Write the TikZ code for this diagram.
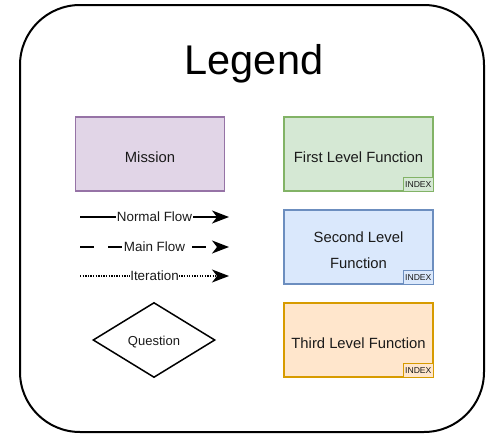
\documentclass[tikz,border=0pt]{standalone}
\usepackage{fontspec}
\setmainfont{Liberation Sans}
\usetikzlibrary{arrows.meta,shapes.geometric}
\definecolor{missionfill}{HTML}{E1D5E7}
\definecolor{missionline}{HTML}{9673A6}
\definecolor{greenfill}{HTML}{D5E8D4}
\definecolor{greenline}{HTML}{82B366}
\definecolor{bluefill}{HTML}{DAE8FC}
\definecolor{blueline}{HTML}{6C8EBF}
\definecolor{orangefill}{HTML}{FFE6CC}
\definecolor{orangeline}{HTML}{D79B00}
\definecolor{inktext}{HTML}{1A1A1A}
\tikzset{
  box/.style={draw, line width=1.6pt, minimum width=149pt, minimum height=74pt, inner sep=0pt},
  boxtext/.style={align=center, inner sep=0pt, text=inktext, font=\fontsize{14.8}{26}\selectfont},
  indexbox/.style={draw, line width=1pt, minimum width=30pt, minimum height=14pt,
    inner sep=0pt, text=inktext, font=\fontsize{8.6}{9}\selectfont},
  flow/.style={line width=1.5pt, -{Stealth[length=17pt,width=13pt,inset=5pt]}},
  flowlabel/.style={fill=white, inner sep=0.5pt, text=inktext, font=\fontsize{13.4}{15}\selectfont}
}
\begin{document}
\begin{tikzpicture}[x=1pt,y=-1pt]
\useasboundingbox (0,0) rectangle (499,437);
% frame
\draw[line width=2pt, rounded corners=60pt] (20,5) rectangle (484,432);
\node[font=\fontsize{41.5}{48}\selectfont] (title) at (254,64) {Legend};

% boxes
\node[box, fill=missionfill, draw=missionline] (mission) at (150,154) {};
\node[box, fill=greenfill, draw=greenline] (first) at (358.5,154) {};
\node[box, fill=bluefill, draw=blueline] (second) at (358.5,247) {};
\node[box, fill=orangefill, draw=orangeline] (third) at (358.5,340) {};

\node[boxtext] (missiontext) at ([yshift=-3pt]mission.center) {Mission};
\node[boxtext] (firsttext) at ([yshift=-3pt]first.center) {First Level Function};
\node[boxtext] (secondtext) at ([yshift=-3pt]second.center) {Second Level\\Function};
\node[boxtext] (thirdtext) at ([yshift=-3pt]third.center) {Third Level Function};

\node[indexbox, fill=greenfill, draw=greenline, anchor=south east] (idx1) at (first.south east) {INDEX};
\node[indexbox, fill=bluefill, draw=blueline, anchor=south east] (idx2) at (second.south east) {INDEX};
\node[indexbox, fill=orangefill, draw=orangeline, anchor=south east] (idx3) at (third.south east) {INDEX};

% flow samples
\coordinate (n1) at (80,217); \coordinate (n2) at (229,217);
\coordinate (m1) at (80,247); \coordinate (m2) at (229,247);
\coordinate (i1) at (80,276); \coordinate (i2) at (229,276);
\draw[flow] (n1) -- node[flowlabel] (nl) {Normal Flow} (n2);
\draw[flow, dash pattern=on 14pt off 14pt] (m1) -- node[flowlabel] (ml) {Main Flow} (m2);
\draw[flow, line width=1.3pt, dash pattern=on 1.3pt off 1.3pt] (i1) -- node[flowlabel] (il) {Iteration} (i2);

% decision
\node[diamond, draw, line width=1.5pt, minimum width=122pt, minimum height=75pt,
  inner sep=0pt, aspect=1.63] (question) at (154,340) {};
\node[text=inktext, inner sep=0pt, font=\fontsize{13}{15}\selectfont] (questiontext)
  at ([yshift=-2pt]question.center) {Question};
\end{tikzpicture}
\end{document}
